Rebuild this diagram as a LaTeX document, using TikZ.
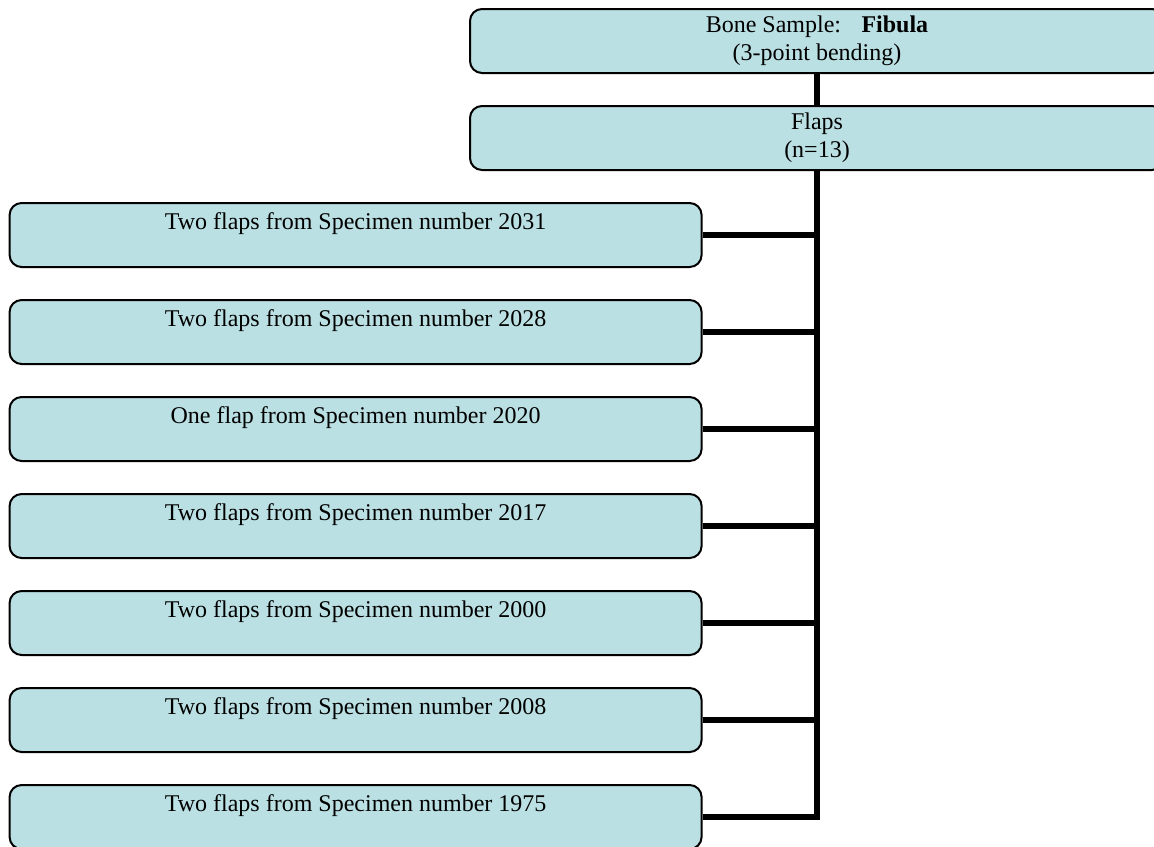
\documentclass[tikz,border=0pt]{standalone}
\usepackage{fontspec}
\setmainfont{Liberation Serif}
\definecolor{boxfill}{RGB}{187,224,227}
\tikzset{
  flapbox/.style={draw=black, line width=1pt, fill=boxfill, rounded corners=6pt,
    minimum width=346pt, minimum height=32pt, inner sep=0pt, align=center,
    font=\fontsize{12}{13.8}\selectfont},
  headbox/.style={flapbox, minimum width=347pt},
  link/.style={line width=3pt, line join=miter, line cap=butt}
}
% one line of text set at the top of a two-line box
\newcommand{\toprow}[1]{#1\\[0.6pt]\mbox{}}
\begin{document}
\begin{tikzpicture}[x=0.5pt, y=-0.5pt]
  \useasboundingbox (0,0) rectangle (1154,846);
  \clip (0,0) rectangle (1154,846);

  % header boxes
  \node[headbox] (top) at (817,41) {Bone Sample:\hspace{0.85em}\textbf{Fibula}\\(3-point bending)};
  \node[headbox] (flaps) at (817,138) {Flaps\\(n=13)};

  % specimen boxes
  \node[flapbox] (b1) at (355.6,235) {\toprow{Two flaps from Specimen number 2031}};
  \node[flapbox] (b2) at (355.6,332) {\toprow{Two flaps from Specimen number 2028}};
  \node[flapbox] (b3) at (355.6,429) {\toprow{One flap from Specimen number 2020}};
  \node[flapbox] (b4) at (355.6,526) {\toprow{Two flaps from Specimen number 2017}};
  \node[flapbox] (b5) at (355.6,623) {\toprow{Two flaps from Specimen number 2000}};
  \node[flapbox] (b6) at (355.6,720) {\toprow{Two flaps from Specimen number 2008}};
  \node[flapbox] (b7) at (355.6,817) {\toprow{Two flaps from Specimen number 1975}};

  % connectors
  \draw[link] (top.south) -- (flaps.north);
  \draw[link] (flaps.south) |- (b7.east);
  \foreach \b in {b1,b2,b3,b4,b5,b6}
    \draw[link] (\b.east) -- (\b.east -| flaps.south);
\end{tikzpicture}
\end{document}
